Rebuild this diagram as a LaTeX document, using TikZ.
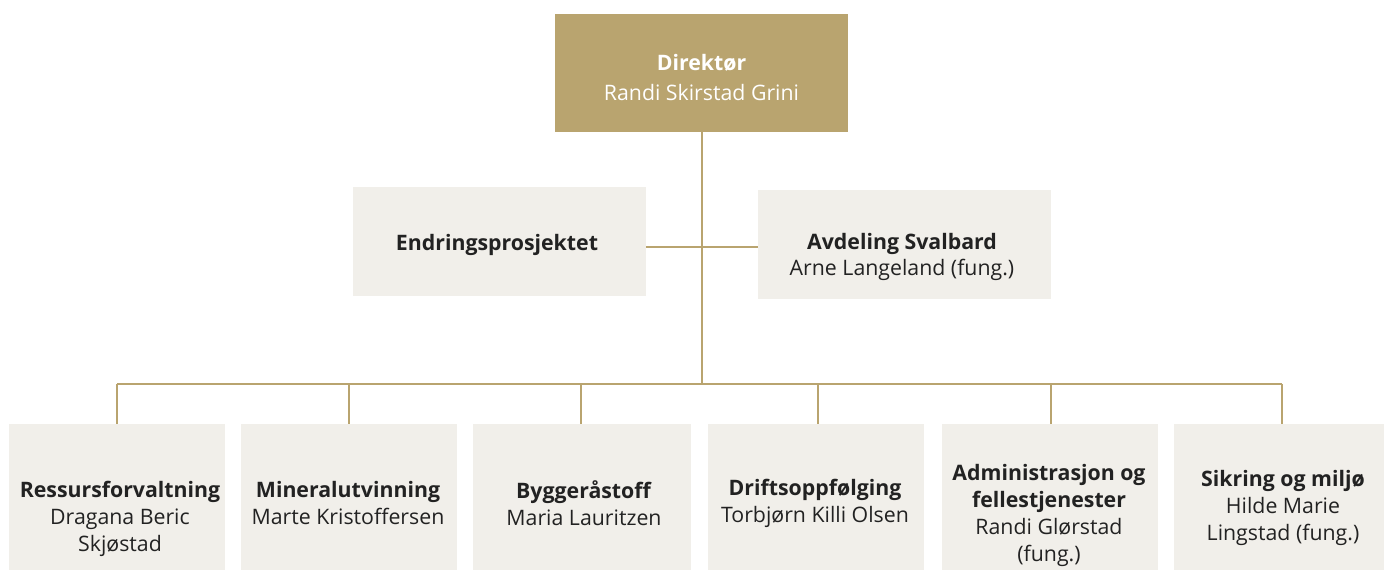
\documentclass[tikz,border=0pt]{standalone}
\usepackage{fontspec}
\setmainfont{Open Sans}
\definecolor{gold}{HTML}{B9A46F}
\definecolor{beige}{HTML}{F1EFEA}
\definecolor{ink}{HTML}{222222}
\begin{document}
\begin{tikzpicture}[x=1pt,y=-1pt,
  box/.style={fill=beige,draw=none,inner sep=0pt},
  topbox/.style={fill=gold,draw=none,inner sep=0pt},
  txt/.style={inner sep=0pt,text=ink,align=center,font=\fontsize{21.3}{27}\selectfont},
  toptxt/.style={inner sep=0pt,text=white,align=center,font=\fontsize{21.3}{30}\selectfont},
  conn/.style={draw=gold,line width=2.2pt}]
\useasboundingbox (0,0) rectangle (1384,572);
\node[topbox,minimum width=293pt,minimum height=118pt] (dir) at (701.5,73) {};
\node[toptxt] (tdir) at (701.5,78) {\textbf{Direktør}\\Randi Skirstad Grini};
\node[box,minimum width=293pt,minimum height=109pt] (endr) at (499.5,241.5) {};
\node[txt] (tendr) at (497,245) {\textbf{Endringsprosjektet}};
\node[box,minimum width=293pt,minimum height=109pt] (sval) at (904.5,244.5) {};
\node[txt,font=\fontsize{21.3}{26}\selectfont] (tsval) at (902,256.5) {\textbf{Avdeling Svalbard}\\Arne Langeland (fung.)};
\node[box,minimum width=216pt,minimum height=146pt] (b1) at (117,497) {};
\node[txt] (t1) at (120,519) {\textbf{Ressursforvaltning}\\Dragana Beric\\Skjøstad};
\node[box,minimum width=216pt,minimum height=146pt] (b2) at (349,497) {};
\node[txt] (t2) at (348,503.5) {\textbf{Mineralutvinning}\\Marte Kristoffersen};
\node[box,minimum width=218pt,minimum height=146pt] (b3) at (582,497) {};
\node[txt] (t3) at (584,503) {\textbf{Byggeråstoff}\\Maria Lauritzen};
\node[box,minimum width=216pt,minimum height=146pt] (b4) at (816,497) {};
\node[txt] (t4) at (815,503.5) {\textbf{Driftsoppfølging}\\Torbjørn Killi Olsen};
\node[box,minimum width=216pt,minimum height=146pt] (b5) at (1049.5,497) {};
\node[txt] (t5) at (1049,515) {\textbf{Administrasjon og}\\\textbf{fellestjenester}\\Randi Glørstad\\(fung.)};
\node[box,minimum width=210pt,minimum height=146pt] (b6) at (1279,497) {};
\node[txt] (t6) at (1283,508) {\textbf{Sikring og miljø}\\Hilde Marie\\Lingstad (fung.)};
\coordinate (bus) at (702,384);
\coordinate (mid) at (702,247);
\draw[conn] (dir.south -| bus) -- (bus);
\draw[conn] (endr.east |- mid) -- (sval.west |- mid);
\draw[conn] (117,384) -- (1282,384);
\foreach \n/\x in {b1/117,b2/349,b3/581,b4/818,b5/1051,b6/1282}
  \draw[conn] (\x,384) -- (\n.north -| \x,0);
\end{tikzpicture}
\end{document}
